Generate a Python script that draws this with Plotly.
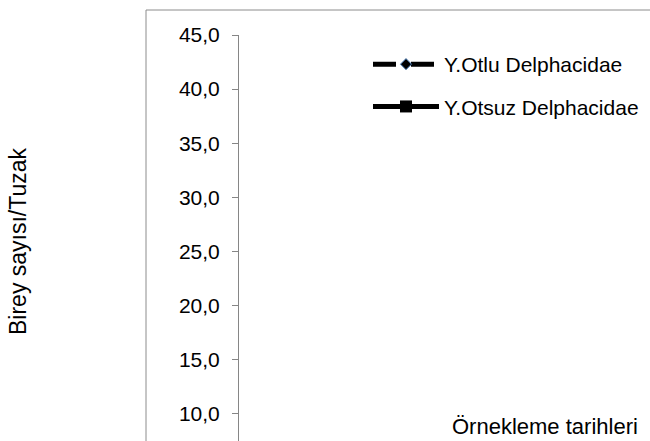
import plotly.graph_objects as go

# ---- data (no data points are visible in the cropped reference) ----
sample_dates = [None]
otlu_values = [None]
otsuz_values = [None]
series_names = ["Y.Otlu Delphacidae", "Y.Otsuz Delphacidae"]
y_tick_values = [10, 15, 20, 25, 30, 35, 40, 45]
y_tick_labels = ["10,0", "15,0", "20,0", "25,0", "30,0", "35,0", "40,0", "45,0"]
y_title = "Birey sayısı/Tuzak"
x_title = "Örnekleme tarihleri"

FONT = "Liberation Sans, Arial, sans-serif"
W, H = 650, 441
L, T = 239, 35
plot_w = W - L
plot_h = H - T

def px_x(x):
    return (x - L) / plot_w

def px_y(y):
    return (H - y) / plot_h

fig = go.Figure()
fig.add_trace(go.Scatter(
    x=sample_dates, y=otlu_values, name=series_names[0], mode="lines+markers",
    line=dict(color="black", width=5, dash="23px,15px"),
    marker=dict(symbol="diamond", size=8.5, color="black", line=dict(color="#4a7ebb", width=1)),
    legendgroup="a",
))
fig.add_trace(go.Scatter(
    x=sample_dates, y=otsuz_values, name=series_names[1], mode="lines+markers",
    line=dict(color="black", width=5),
    marker=dict(symbol="square", size=12, color="black"),
    legendgroup="b",
))

fig.update_layout(
    width=W, height=H,
    margin=dict(l=L, r=0, t=T, b=0, autoexpand=False),
    paper_bgcolor="white", plot_bgcolor="white",
    font=dict(family=FONT, size=21, color="black"),
    showlegend=True,
    legend=dict(
        x=px_x(368), y=px_y(44), xanchor="left", yanchor="top",
        itemwidth=66, tracegroupgap=12, traceorder="grouped",
        font=dict(family=FONT, size=21, color="black"),
        bgcolor="rgba(0,0,0,0)",
    ),
    xaxis=dict(visible=False, range=[0, 1]),
    yaxis=dict(
        range=[7.5, 45], tickvals=y_tick_values, ticktext=y_tick_labels,
        showline=True, linecolor="#868686", linewidth=1,
        ticks="outside", ticklen=6, tickcolor="#868686",
        showgrid=False, zeroline=False, ticklabelstandoff=8,
        tickfont=dict(family=FONT, size=21, color="black"),
    ),
    shapes=[
        dict(type="line", xref="paper", yref="paper",
             x0=px_x(146), x1=px_x(146), y0=px_y(10), y1=px_y(460),
             line=dict(color="#8c8c8c", width=1)),
        dict(type="line", xref="paper", yref="paper",
             x0=px_x(146), x1=px_x(700), y0=px_y(10), y1=px_y(10),
             line=dict(color="#8c8c8c", width=1)),
    ],
    annotations=[
        dict(text=y_title, textangle=-90, xref="paper", yref="paper",
             x=px_x(18), y=px_y(241), xanchor="center", yanchor="middle",
             showarrow=False, font=dict(family=FONT, size=23, color="black")),
        dict(text=x_title, xref="paper", yref="paper",
             x=px_x(545), y=0, xanchor="center", yanchor="bottom",
             showarrow=False, font=dict(family=FONT, size=22, color="black")),
    ],
)

fig.write_html("out.html", config={"displayModeBar": False},
               post_script="document.body.style.margin='0px';")
